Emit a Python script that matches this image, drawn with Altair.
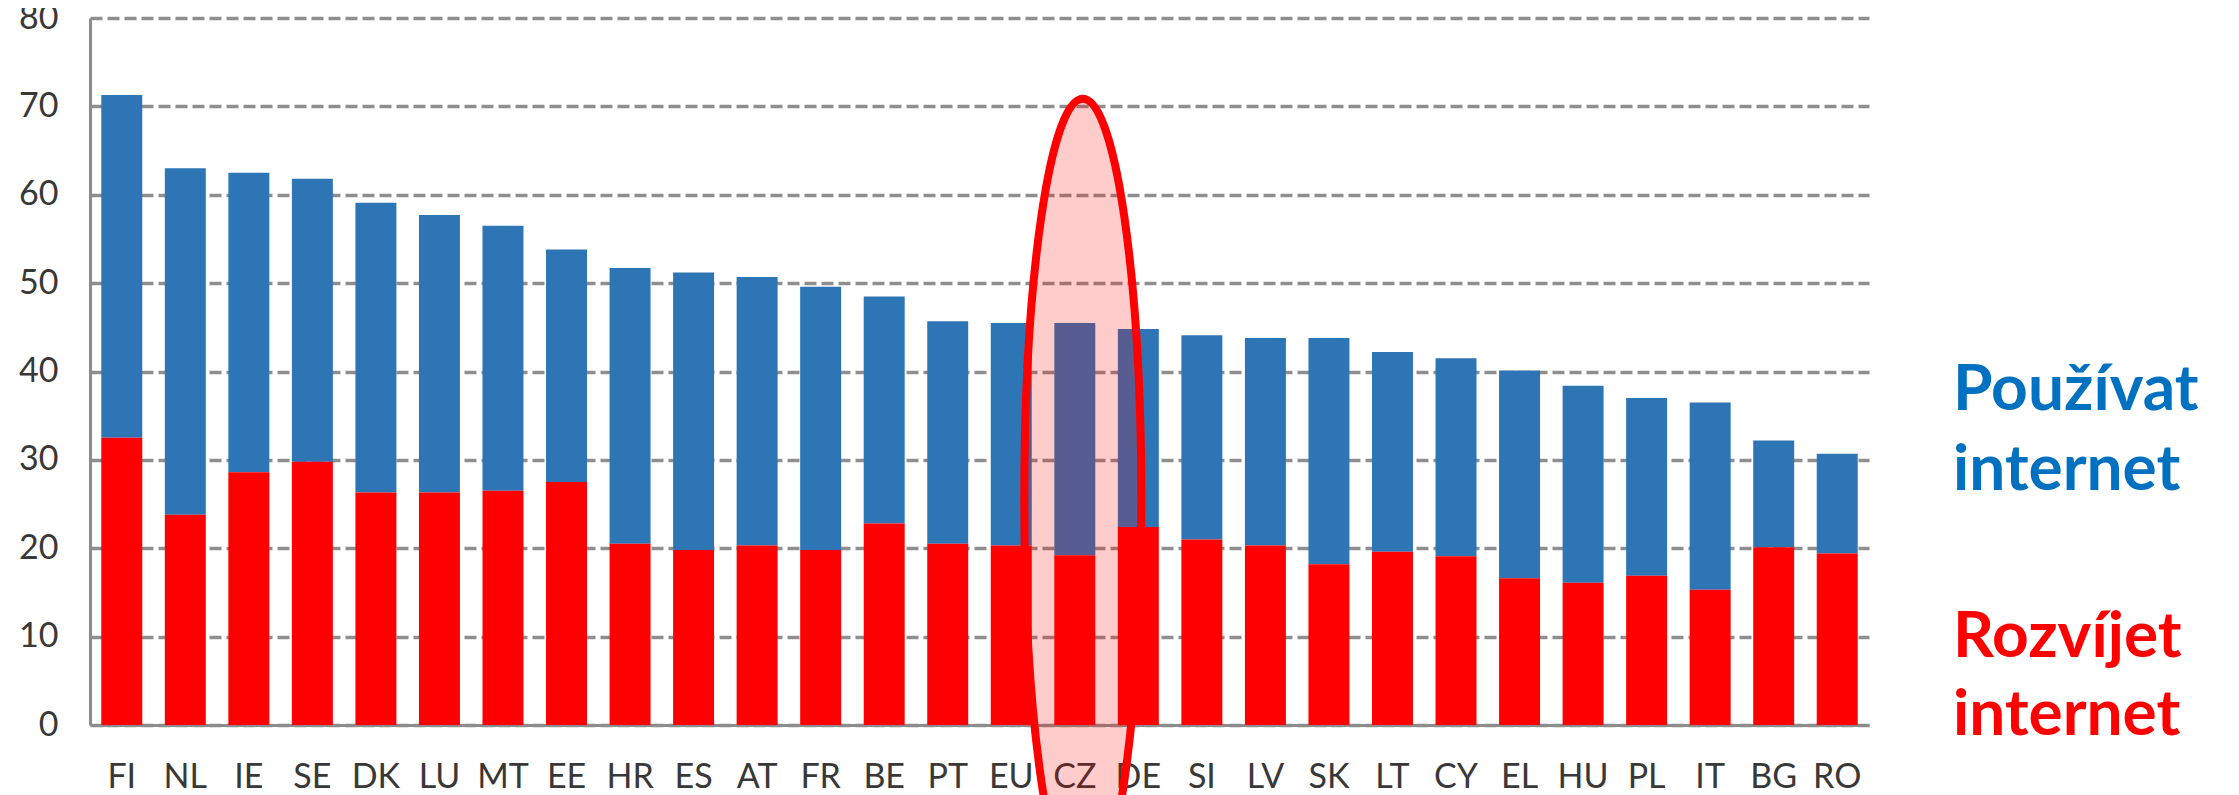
import altair as alt
import pandas as pd

# ---- data ----
countries = ["FI", "NL", "IE", "SE", "DK", "LU", "MT", "EE", "HR", "ES", "AT", "FR", "BE", "PT",
             "EU", "CZ", "DE", "SI", "LV", "SK", "LT", "CY", "EL", "HU", "PL", "IT", "BG", "RO"]
# top of each bar (Používat internet, total height)
pouzivat_total = [71.3, 63.0, 62.5, 61.8, 59.1, 57.7, 56.5, 53.8, 51.7, 51.2, 50.7, 49.6, 48.5, 45.7,
                  45.5, 45.5, 44.8, 44.1, 43.8, 43.8, 42.2, 41.5, 40.1, 38.4, 37.0, 36.5, 32.2, 30.7]
# red part (Rozvíjet internet)
rozvijet = [32.5, 23.8, 28.6, 29.8, 26.3, 26.3, 26.5, 27.5, 20.5, 19.8, 20.3, 19.8, 22.8, 20.5,
            20.3, 19.2, 22.4, 21.0, 20.3, 18.2, 19.6, 19.1, 16.6, 16.1, 16.9, 15.3, 20.1, 19.4]
y_ticks = [0, 10, 20, 30, 40, 50, 60, 70, 80]
highlight_country = ["CZ"]
highlight_center = [25.6]
blue_label = ["Používat", "internet"]
red_label = ["Rozvíjet", "internet"]

BLUE = "#2E75B6"
RED = "#FF0000"
LABEL = "#383838"

df = pd.DataFrame({"country": countries, "total": pouzivat_total, "develop": rozvijet})
hl = pd.DataFrame({"country": highlight_country, "center": highlight_center})
one = pd.DataFrame({"a": [0]})

x_enc = alt.X(
    "country:N", sort=countries,
    scale=alt.Scale(paddingInner=0.355, paddingOuter=0.1775),
    axis=alt.Axis(title=None, labelAngle=0, ticks=False, labelPadding=62,
                  labelBaseline="alphabetic", labelFont="Lato", labelFontSize=34,
                  labelColor=LABEL, domainColor="#8c8c8c", domainWidth=3,
                  grid=False, zindex=0),
)
y_scale = alt.Scale(domain=[0, 80], nice=False, zero=True)
y_axis = alt.Axis(title=None, values=y_ticks, ticks=False, labelPadding=32,
                  labelFont="Lato", labelFontSize=34, labelColor=LABEL,
                  domainColor="#8c8c8c", domainWidth=3,
                  grid=True, gridColor="#8f8f8f", gridWidth=3.5, gridDash=[12, 5],
                  gridOpacity=1, zindex=0)

blue_bars = alt.Chart(df).mark_bar(color=BLUE).encode(
    x=x_enc,
    y=alt.Y("develop:Q", scale=y_scale, axis=y_axis),
    y2="total:Q",
)
red_bars = alt.Chart(df).mark_bar(color=RED).encode(
    x=alt.X("country:N", sort=countries),
    y=alt.Y("develop:Q", scale=y_scale),
)

k = 0.5523
bx = 0.1463
ellipse_path = (
    f"M0,-1C{k*bx:.4f},-1 {bx},-{k} {bx},0"
    f"C{bx},{k} {k*bx:.4f},1 0,1"
    f"C-{k*bx:.4f},1 -{bx},{k} -{bx},0"
    f"C-{bx},-{k} -{k*bx:.4f},-1 0,-1Z"
)
ellipse = alt.Chart(hl).mark_point(
    shape=ellipse_path, size=640000, filled=True, color=RED, fill=RED, fillOpacity=0.2,
    stroke=RED, strokeWidth=8, strokeOpacity=1, opacity=1, xOffset=8,
).encode(
    x=alt.X("country:N", sort=countries),
    y=alt.Y("center:Q", scale=y_scale),
)

blue_text = alt.Chart(one).mark_text(
    text=blue_label, font="Lato", fontWeight="bold", fontSize=64, color="#0070C0",
    align="left", baseline="alphabetic", lineHeight=80,
).encode(x=alt.value(1863), y=alt.value(392))
red_text = alt.Chart(one).mark_text(
    text=red_label, font="Lato", fontWeight="bold", fontSize=64, color=RED,
    align="left", baseline="alphabetic", lineHeight=78,
).encode(x=alt.value(1863), y=alt.value(639))

chart = alt.layer(blue_bars, red_bars, ellipse, blue_text, red_text).properties(
    width=1779, height=707,
    autosize=alt.AutoSizeParams(type="none"),
    padding={"left": 82, "top": 10, "right": 362, "bottom": 70},
    background="white",
).configure_view(stroke=None)

chart.save("out.html", embed_options={"renderer": "svg", "actions": False})
